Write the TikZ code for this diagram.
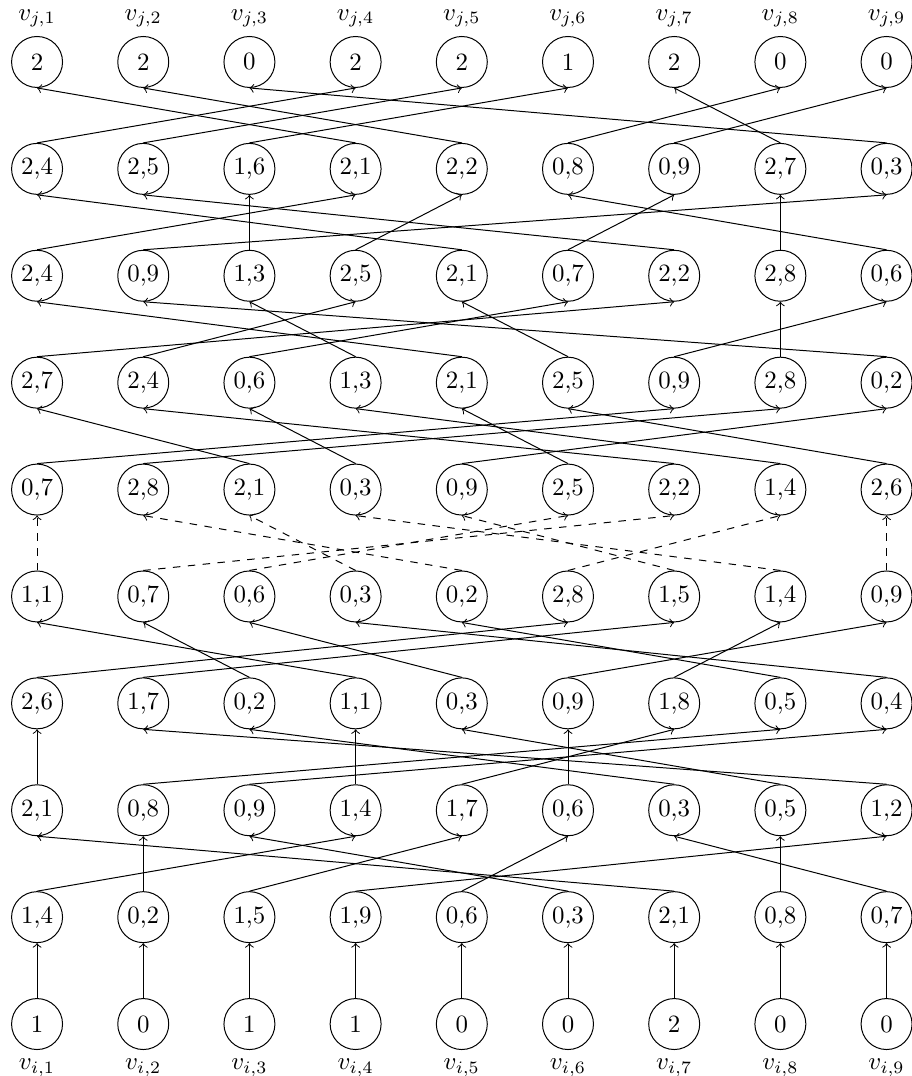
\documentclass[tikz,border=0pt]{standalone}
\begin{document}
\begin{tikzpicture}[x=1.5cm, y=1.51cm,
    vert/.style={draw, circle, minimum size=0.72cm, inner sep=0pt},
    link/.style={->}]
    \useasboundingbox (-0.349,-0.486) rectangle (8.236,9.58);

    % Top row v_j
    \foreach \v [count=\c] in {2,2,0,2,2,1,2,0,0}
        \node[vert, label={above:$v_{j,\c}$}] (r9-\c) at (\c-1,9) {\v};

    % Middle rows: node a,b points to column b of the row above
    \foreach \r/\ls/\lst in {
        8/solid/{2/4,2/5,1/6,2/1,2/2,0/8,0/9,2/7,0/3},
        7/solid/{2/4,0/9,1/3,2/5,2/1,0/7,2/2,2/8,0/6},
        6/solid/{2/7,2/4,0/6,1/3,2/1,2/5,0/9,2/8,0/2},
        5/solid/{0/7,2/8,2/1,0/3,0/9,2/5,2/2,1/4,2/6},
        4/dashed/{1/1,0/7,0/6,0/3,0/2,2/8,1/5,1/4,0/9},
        3/solid/{2/6,1/7,0/2,1/1,0/3,0/9,1/8,0/5,0/4},
        2/solid/{2/1,0/8,0/9,1/4,1/7,0/6,0/3,0/5,1/2},
        1/solid/{1/4,0/2,1/5,1/9,0/6,0/3,2/1,0/8,0/7}}
    {
        \pgfmathtruncatemacro{\up}{\r+1}
        \foreach \a/\b [count=\c] in \lst {
            \node[vert] (r\r-\c) at (\c-1,\r) {\a,\b};
            \draw[link, \ls] (r\r-\c.north) -- (r\up-\b.south);
        }
    }

    % Bottom row v_i
    \foreach \v [count=\c] in {1,0,1,1,0,0,2,0,0} {
        \node[vert, label={below:$v_{i,\c}$}] (r0-\c) at (\c-1,0) {\v};
        \draw[link] (r0-\c.north) -- (r1-\c.south);
    }
\end{tikzpicture}
\end{document}
